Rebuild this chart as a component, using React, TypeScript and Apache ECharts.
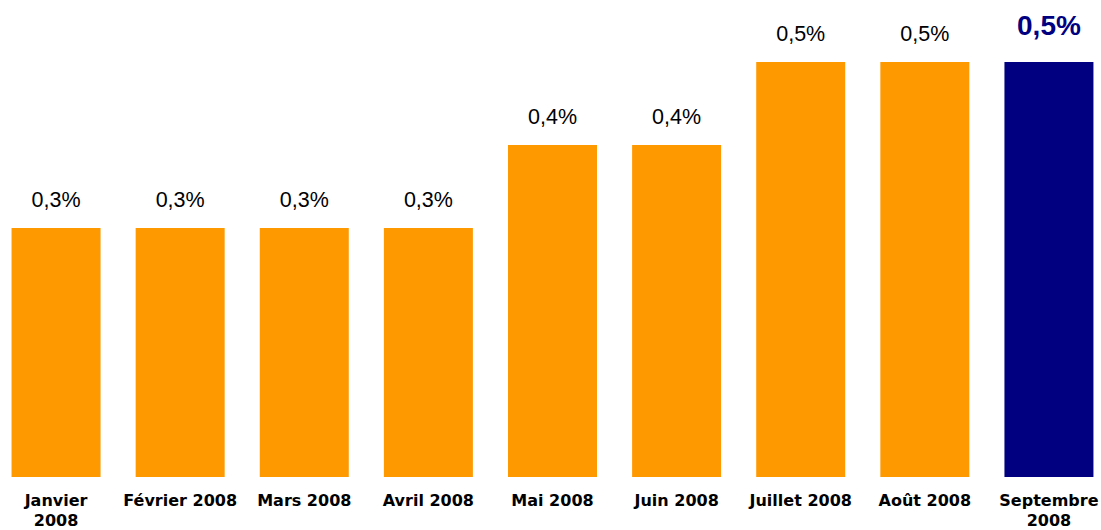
import React, { useEffect, useRef } from "react";
import * as echarts from "echarts";

const categories = [
  "Janvier\n2008",
  "Février 2008",
  "Mars 2008",
  "Avril 2008",
  "Mai 2008",
  "Juin 2008",
  "Juillet 2008",
  "Août 2008",
  "Septembre\n2008",
];
const values = [0.3, 0.3, 0.3, 0.3, 0.4, 0.4, 0.5, 0.5, 0.5];
const highlightIndex = 8;

export default function App() {
  const ref = useRef<HTMLDivElement>(null);
  useEffect(() => {
    if (!ref.current) return;
    const chart = echarts.init(ref.current, null, { renderer: "svg" });
    const fmt = (v: number) => v.toFixed(1).replace(".", ",") + "%";
    chart.setOption({
      animation: false,
      backgroundColor: "#ffffff",
      grid: { left: 0, right: 0, top: 62, bottom: 51 },
      xAxis: {
        type: "category",
        data: categories,
        axisLine: { show: false },
        axisTick: { show: false },
        axisLabel: {
          interval: 0,
          margin: 13,
          fontFamily: "DejaVu Sans",
          fontWeight: "bold",
          fontSize: 16,
          lineHeight: 20,
          color: "#000000",
        },
      },
      yAxis: {
        type: "value",
        min: 0,
        max: 0.5,
        show: false,
        splitLine: { show: false },
      },
      series: [
        {
          type: "bar",
          barWidth: 89,
          data: values.map((v, i) =>
            i === highlightIndex
              ? {
                  value: v,
                  itemStyle: { color: "#000080" },
                  label: {
                    fontSize: 28,
                    fontWeight: "bold",
                    color: "#000080",
                    distance: 23,
                  },
                }
              : { value: v, itemStyle: { color: "#FF9900" } }
          ),
          label: {
            show: true,
            position: "top",
            distance: 17,
            fontFamily: "Liberation Sans",
            fontSize: 21.5,
            color: "#000000",
            formatter: (p: any) => fmt(p.value),
          },
        },
      ],
    });
    return () => chart.dispose();
  }, []);
  return (
    <div
      style={{
        position: "fixed",
        left: 0,
        top: 0,
        width: 1101,
        height: 530,
        overflow: "hidden",
        background: "#ffffff",
      }}
    >
      <div
        ref={ref}
        style={{ position: "absolute", left: -6.5, top: 0, width: 1117, height: 530 }}
      />
    </div>
  );
}
